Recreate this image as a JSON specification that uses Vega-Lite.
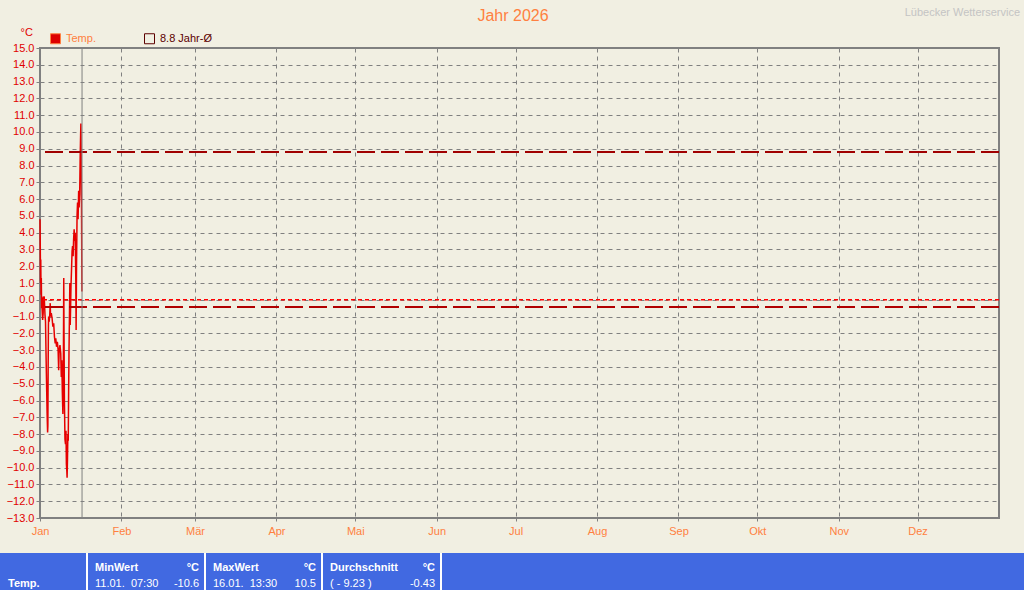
{
  "$schema": "https://vega.github.io/schema/vega-lite/v6.json",
  "background": "#f1efe2",
  "padding": {"left": 0, "top": 6, "right": 0, "bottom": 0},
  "config": {"font": "Liberation Sans", "view": {"stroke": null}},
  "spacing": 15,
  "datasets": {
    "temp": [
      {"time": "2026-01-01T00:00", "temp": 4.8},
      {"time": "2026-01-01T02:30", "temp": 3.2},
      {"time": "2026-01-01T05:00", "temp": 1.0},
      {"time": "2026-01-01T07:00", "temp": 2.4},
      {"time": "2026-01-01T09:30", "temp": 0.3},
      {"time": "2026-01-01T12:00", "temp": 1.3},
      {"time": "2026-01-01T14:30", "temp": -0.5},
      {"time": "2026-01-01T18:00", "temp": 0.2},
      {"time": "2026-01-01T19:30", "temp": -0.6},
      {"time": "2026-01-02T00:00", "temp": -1.2},
      {"time": "2026-01-02T05:00", "temp": -0.8},
      {"time": "2026-01-02T07:00", "temp": 0.1},
      {"time": "2026-01-02T14:30", "temp": 0.2},
      {"time": "2026-01-02T21:30", "temp": -0.9},
      {"time": "2026-01-03T02:30", "temp": -1.3},
      {"time": "2026-01-03T07:00", "temp": -3.2},
      {"time": "2026-01-03T12:00", "temp": -5.0},
      {"time": "2026-01-03T17:00", "temp": -6.8},
      {"time": "2026-01-03T21:30", "temp": -7.9},
      {"time": "2026-01-04T00:00", "temp": -7.5},
      {"time": "2026-01-04T02:30", "temp": -4.0},
      {"time": "2026-01-04T05:00", "temp": -1.5},
      {"time": "2026-01-04T07:00", "temp": -1.0},
      {"time": "2026-01-04T12:00", "temp": -1.3},
      {"time": "2026-01-04T17:00", "temp": -0.9},
      {"time": "2026-01-04T21:30", "temp": -0.2},
      {"time": "2026-01-05T00:00", "temp": -1.0},
      {"time": "2026-01-05T07:00", "temp": -0.8},
      {"time": "2026-01-05T14:30", "temp": -1.1},
      {"time": "2026-01-05T21:30", "temp": -1.6},
      {"time": "2026-01-06T05:00", "temp": -1.4},
      {"time": "2026-01-06T12:00", "temp": -2.2},
      {"time": "2026-01-06T19:00", "temp": -2.6},
      {"time": "2026-01-07T00:00", "temp": -2.3},
      {"time": "2026-01-07T07:00", "temp": -2.8},
      {"time": "2026-01-07T14:30", "temp": -2.5},
      {"time": "2026-01-07T21:30", "temp": -3.0},
      {"time": "2026-01-08T02:30", "temp": -4.2},
      {"time": "2026-01-08T07:00", "temp": -3.0},
      {"time": "2026-01-08T14:30", "temp": -2.7},
      {"time": "2026-01-08T21:30", "temp": -3.2},
      {"time": "2026-01-09T02:30", "temp": -4.6},
      {"time": "2026-01-09T07:00", "temp": -3.6},
      {"time": "2026-01-09T12:00", "temp": -5.5},
      {"time": "2026-01-09T17:00", "temp": -6.8},
      {"time": "2026-01-09T21:30", "temp": -4.0},
      {"time": "2026-01-10T01:00", "temp": 1.3},
      {"time": "2026-01-10T03:30", "temp": -2.0},
      {"time": "2026-01-10T07:00", "temp": -6.0},
      {"time": "2026-01-10T12:00", "temp": -8.3},
      {"time": "2026-01-10T17:00", "temp": -8.6},
      {"time": "2026-01-10T21:30", "temp": -7.8},
      {"time": "2026-01-11T01:00", "temp": -9.8},
      {"time": "2026-01-11T05:00", "temp": -10.2},
      {"time": "2026-01-11T07:30", "temp": -10.6},
      {"time": "2026-01-11T11:00", "temp": -9.5},
      {"time": "2026-01-11T14:30", "temp": -8.0},
      {"time": "2026-01-11T18:00", "temp": -8.4},
      {"time": "2026-01-11T21:30", "temp": -5.5},
      {"time": "2026-01-12T01:00", "temp": -3.0},
      {"time": "2026-01-12T05:00", "temp": -1.0},
      {"time": "2026-01-12T08:30", "temp": 1.0},
      {"time": "2026-01-12T12:00", "temp": -1.5},
      {"time": "2026-01-12T15:30", "temp": -0.5},
      {"time": "2026-01-12T19:00", "temp": 0.8},
      {"time": "2026-01-13T00:00", "temp": 1.8},
      {"time": "2026-01-13T05:00", "temp": 2.9},
      {"time": "2026-01-13T09:30", "temp": 3.2},
      {"time": "2026-01-13T14:30", "temp": 2.6},
      {"time": "2026-01-13T19:00", "temp": 3.6},
      {"time": "2026-01-14T00:00", "temp": 4.2},
      {"time": "2026-01-14T05:00", "temp": 3.5},
      {"time": "2026-01-14T09:30", "temp": 4.0},
      {"time": "2026-01-14T14:30", "temp": 1.5},
      {"time": "2026-01-14T18:00", "temp": -1.8},
      {"time": "2026-01-14T21:30", "temp": 2.0},
      {"time": "2026-01-15T02:30", "temp": 5.0},
      {"time": "2026-01-15T07:00", "temp": 5.8},
      {"time": "2026-01-15T12:00", "temp": 4.8},
      {"time": "2026-01-15T17:00", "temp": 6.5},
      {"time": "2026-01-15T21:30", "temp": 5.5},
      {"time": "2026-01-16T02:30", "temp": 6.3},
      {"time": "2026-01-16T07:00", "temp": 8.5},
      {"time": "2026-01-16T11:00", "temp": 9.8},
      {"time": "2026-01-16T13:30", "temp": 10.5},
      {"time": "2026-01-16T15:30", "temp": 9.2},
      {"time": "2026-01-16T19:00", "temp": 6.0},
      {"time": "2026-01-16T23:00", "temp": 0.5}
    ],
    "cells": [
      {"start": 0, "end": 87, "row": "val", "left": "Temp.", "right": ""},
      {"start": 87, "end": 205, "row": "head", "left": "MinWert", "right": "°C"},
      {"start": 87, "end": 205, "row": "val", "left": "11.01.\u00a0\u00a007:30", "right": "-10.6"},
      {"start": 205, "end": 322, "row": "head", "left": "MaxWert", "right": "°C"},
      {"start": 205, "end": 322, "row": "val", "left": "16.01.\u00a0\u00a013:30", "right": "10.5"},
      {"start": 322, "end": 441, "row": "head", "left": "Durchschnitt", "right": "°C"},
      {"start": 322, "end": 441, "row": "val", "left": "\u2007( - 9.23 )", "right": "-0.43"}
    ]
  },
  "vconcat": [
    {
      "width": 959,
      "height": 470,
      "view": {"stroke": "#808080", "strokeWidth": 2, "fill": null},
      "layer": [
        {
          "data": {"name": "temp"},
          "mark": {"type": "line", "color": "#e60000", "strokeWidth": 1.5},
          "encoding": {
            "x": {
              "field": "time", "type": "temporal",
              "scale": {"domain": [{"year": 2026, "month": 1, "date": 1}, {"year": 2027, "month": 1, "date": 1}]},
              "axis": {
                "values": [
                  {"year": 2026, "month": 1, "date": 1}, {"year": 2026, "month": 2, "date": 1},
                  {"year": 2026, "month": 3, "date": 1}, {"year": 2026, "month": 4, "date": 1},
                  {"year": 2026, "month": 5, "date": 1}, {"year": 2026, "month": 6, "date": 1},
                  {"year": 2026, "month": 7, "date": 1}, {"year": 2026, "month": 8, "date": 1},
                  {"year": 2026, "month": 9, "date": 1}, {"year": 2026, "month": 10, "date": 1},
                  {"year": 2026, "month": 11, "date": 1}, {"year": 2026, "month": 12, "date": 1}
                ],
                "tickCount": 30,
                "labelExpr": "['Jan','Feb','Mär','Apr','Mai','Jun','Jul','Aug','Sep','Okt','Nov','Dez'][month(datum.value)]",
                "title": null,
                "labelColor": "#ff8040", "labelFontSize": 11, "labelFont": "Liberation Sans",
                "labelPadding": 4, "labelFlush": false, "labelOverlap": false,
                "tickColor": "#808080", "tickSize": 3,
                "domain": false,
                "grid": true, "gridColor": "#808080", "gridDash": [4, 4], "gridWidth": 1
              }
            },
            "y": {
              "field": "temp", "type": "quantitative",
              "scale": {"domain": [-13, 15], "nice": false, "zero": false},
              "axis": {
                "values": [-13,-12,-11,-10,-9,-8,-7,-6,-5,-4,-3,-2,-1,0,1,2,3,4,5,6,7,8,9,10,11,12,13,14,15],
                "tickCount": 30,
                "format": ".1f",
                "labelColor": "#e00000", "labelFontSize": 11, "labelFont": "Liberation Sans",
                "labelPadding": 2, "labelOverlap": false, "labelFlush": false,
                "tickColor": "#808080", "tickSize": 4,
                "domain": false,
                "grid": true, "gridColor": "#808080", "gridDash": [4, 4], "gridWidth": 1,
                "title": "°C", "titleAngle": 0, "titleX": -20, "titleY": -13,
                "titleAlign": "left", "titleBaseline": "alphabetic",
                "titleColor": "#e00000", "titleFontWeight": "normal", "titleFontSize": 11,
                "titleFont": "Liberation Sans",
                "minExtent": 39, "maxExtent": 39
              }
            }
          }
        },
        {
          "data": {"values": [{"temp": 8.8}]},
          "mark": {"type": "rule", "color": "#a00000", "strokeWidth": 2, "strokeDash": [18, 6]},
          "encoding": {"y": {"field": "temp", "type": "quantitative"}}
        },
        {
          "data": {"values": [{"temp": -0.43}]},
          "mark": {"type": "rule", "color": "#b00000", "strokeWidth": 2, "strokeDash": [18, 6]},
          "encoding": {"y": {"field": "temp", "type": "quantitative"}}
        },
        {
          "data": {"values": [{"temp": 0}]},
          "mark": {"type": "rule", "color": "#ff0000", "strokeWidth": 1.5, "strokeDash": [4, 3]},
          "encoding": {"y": {"field": "temp", "type": "quantitative"}}
        },
        {
          "data": {"values": [{"time": "2026-01-17T00:00"}]},
          "mark": {"type": "rule", "color": "#808080", "strokeWidth": 1},
          "encoding": {"x": {"field": "time", "type": "temporal"}}
        },
        {
          "data": {"values": [{"label": "Jahr 2026"}]},
          "mark": {"type": "text", "fontSize": 16, "color": "#ff8040", "align": "center", "baseline": "alphabetic", "font": "Liberation Sans"},
          "encoding": {
            "x": {"datum": {"year": 2026, "month": 6, "date": 30, "hours": 1}},
            "y": {"datum": 16.6},
            "text": {"field": "label"}
          }
        },
        {
          "data": {"values": [{"label": "Lübecker Wetterservice"}]},
          "mark": {"type": "text", "fontSize": 11, "color": "#c4c4c4", "align": "right", "baseline": "alphabetic", "font": "Liberation Sans"},
          "encoding": {
            "x": {"datum": {"year": 2027, "month": 1, "date": 9}},
            "y": {"datum": 16.9},
            "text": {"field": "label"}
          }
        },
        {
          "data": {"values": []},
          "mark": {"type": "square", "size": 100},
          "encoding": {
            "fill": {
              "field": "series", "type": "nominal",
              "scale": {"domain": ["Temp.", "8.8 Jahr-Ø"], "range": ["#dd0000", "transparent"]},
              "legend": {
                "title": null, "orient": "none", "legendX": 10, "legendY": -15,
                "direction": "horizontal", "columnPadding": 46, "labelOffset": 5,
                "symbolType": "square", "symbolSize": 100, "symbolStrokeWidth": 1, "symbolOpacity": 1,
                "labelFontSize": 11, "labelFont": "Liberation Sans", "padding": 0,
                "labelColor": {"expr": "datum.label == 'Temp.' ? '#ff8040' : '#5c0000'"}
              }
            },
            "stroke": {
              "field": "series", "type": "nominal",
              "scale": {"domain": ["Temp.", "8.8 Jahr-Ø"], "range": ["#ff8040", "#5c0000"]},
              "legend": {
                "title": null, "orient": "none", "legendX": 10, "legendY": -15,
                "direction": "horizontal", "columnPadding": 46, "labelOffset": 5,
                "symbolType": "square", "symbolSize": 100, "symbolStrokeWidth": 1, "symbolOpacity": 1,
                "labelFontSize": 11, "labelFont": "Liberation Sans", "padding": 0,
                "labelColor": {"expr": "datum.label == 'Temp.' ? '#ff8040' : '#5c0000'"}
              }
            }
          }
        }
      ]
    },
    {
      "width": 984,
      "height": 40,
      "view": {"stroke": null},
      "layer": [
        {
          "data": {"values": [{"from": 0, "to": 1024}]},
          "mark": {"type": "rect", "color": "#4169e1"},
          "encoding": {
            "x": {"field": "from", "type": "quantitative", "scale": {"domain": [0, 1024], "range": [-40, 984], "nice": false, "zero": false}, "axis": null},
            "x2": {"field": "to"}
          }
        },
        {
          "data": {"values": [{"from": 87}, {"from": 205}, {"from": 322}, {"from": 441}]},
          "mark": {"type": "rule", "color": "#ffffff", "strokeWidth": 2},
          "encoding": {
            "x": {"field": "from", "type": "quantitative"}
          }
        },
        {
          "data": {"name": "cells"},
          "transform": [{"filter": "datum.row == 'head' || datum.start == 0"}],
          "mark": {"type": "text", "align": "left", "baseline": "alphabetic", "dx": 8, "fontSize": 11, "fontWeight": "bold", "color": "#ffffff", "font": "Liberation Sans"},
          "encoding": {
            "x": {"field": "start", "type": "quantitative"},
            "y": {"field": "row", "type": "nominal", "scale": {"type": "point", "domain": ["head", "val"], "range": [18, 34], "padding": 0}, "axis": null},
            "text": {"field": "left"}
          }
        },
        {
          "data": {"name": "cells"},
          "transform": [{"filter": "datum.row == 'val' && datum.start > 0"}],
          "mark": {"type": "text", "align": "left", "baseline": "alphabetic", "dx": 8, "fontSize": 11, "color": "#ffffff", "font": "Liberation Sans"},
          "encoding": {
            "x": {"field": "start", "type": "quantitative"},
            "y": {"field": "row", "type": "nominal"},
            "text": {"field": "left"}
          }
        },
        {
          "data": {"name": "cells"},
          "transform": [{"filter": "datum.row == 'head'"}],
          "mark": {"type": "text", "align": "right", "baseline": "alphabetic", "dx": -6, "fontSize": 11, "fontWeight": "bold", "color": "#ffffff", "font": "Liberation Sans"},
          "encoding": {
            "x": {"field": "end", "type": "quantitative"},
            "y": {"field": "row", "type": "nominal"},
            "text": {"field": "right"}
          }
        },
        {
          "data": {"name": "cells"},
          "transform": [{"filter": "datum.row == 'val' && datum.start > 0"}],
          "mark": {"type": "text", "align": "right", "baseline": "alphabetic", "dx": -6, "fontSize": 11, "color": "#ffffff", "font": "Liberation Sans"},
          "encoding": {
            "x": {"field": "end", "type": "quantitative"},
            "y": {"field": "row", "type": "nominal"},
            "text": {"field": "right"}
          }
        }
      ]
    }
  ]
}
